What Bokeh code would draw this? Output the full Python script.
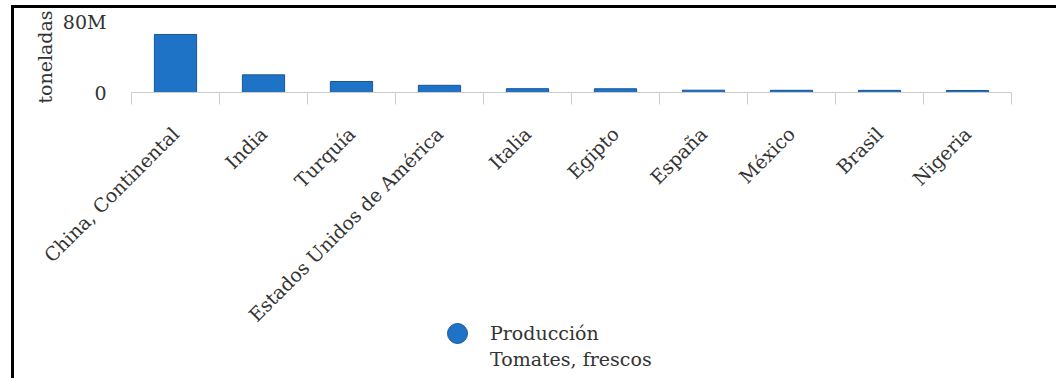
import math

from bokeh.embed import file_html
from bokeh.layouts import column
from bokeh.models import ColumnDataSource, FixedTicker, Legend, LegendItem, Range1d
from bokeh.plotting import figure
from bokeh.resources import INLINE

# Tomato production by country (tonnes)
countries = [
    "China, Continental", "India", "Turquía", "Estados Unidos de América",
    "Italia", "Egipto", "España", "México", "Brasil", "Nigeria",
]
production_t = [65.4e6, 19.9e6, 12.4e6, 8.1e6, 4.3e6, 4.2e6, 2.6e6, 2.5e6, 2.4e6, 2.3e6]
series_label = ["Producción", "Tomates, frescos"]
y_axis_label = "toneladas"
y_ticks = [0, 80e6]
y_tick_labels = ["0", "80M"]

FONT = "DejaVu Serif"
TEXT = "#333333"
BLUE = "#1f73c6"
EDGE = "#1b5597"
RULE = "#cccccc"

n = len(countries)
centers = [i + 0.5 for i in range(n)]
src = ColumnDataSource(dict(x=centers, top=production_t, name=countries))

p = figure(
    width=1042, height=328,
    x_range=Range1d(0, n), y_range=Range1d(y_ticks[0], y_ticks[-1]),
    output_backend="svg", toolbar_location=None,
    min_border_left=117, min_border_right=45, min_border_top=13, min_border_bottom=244,
)
p.outline_line_color = None

p.vbar(x="x", top="top", bottom=0, width=0.48, source=src,
       fill_color=BLUE, line_color=EDGE, line_width=1)

# category axis: labels at bar centres, tick marks on the category boundaries
xa = p.xaxis[0]
xa.ticker = FixedTicker(ticks=centers, minor_ticks=list(range(n + 1)))
xa.major_label_overrides = {c: name for c, name in zip(centers, countries)}
xa.major_label_orientation = math.pi / 4
xa.major_label_standoff = 26
xa.major_label_text_font = FONT
xa.major_label_text_font_size = "19px"
xa.major_label_text_color = TEXT
xa.major_tick_line_color = None
xa.major_tick_out = 0
xa.major_tick_in = 0
xa.minor_tick_line_color = RULE
xa.minor_tick_out = 12
xa.minor_tick_in = 0
xa.axis_line_color = RULE

ya = p.yaxis[0]
ya.ticker = FixedTicker(ticks=y_ticks)
ya.major_label_overrides = dict(zip(y_ticks, y_tick_labels))
ya.major_label_text_font = FONT
ya.major_label_text_font_size = "19px"
ya.major_label_text_color = TEXT
ya.major_label_standoff = 19
ya.major_tick_line_color = None
ya.minor_tick_line_color = None
ya.axis_line_color = None
ya.axis_label = y_axis_label
ya.axis_label_text_font = FONT
ya.axis_label_text_font_size = "19px"
ya.axis_label_text_font_style = "normal"
ya.axis_label_text_color = TEXT
ya.axis_label_standoff = 4

p.xgrid.visible = False
p.ygrid[0].ticker = FixedTicker(ticks=y_ticks)
p.ygrid.grid_line_color = "#dddddd"

# legend strip under the chart (transparent, tucked up beside the long labels)
leg = figure(
    width=1042, height=82, output_backend="svg", toolbar_location=None,
    x_axis_location=None, y_axis_location=None,
    min_border=0, min_border_left=0, min_border_right=0, min_border_top=0, min_border_bottom=0,
)
leg.outline_line_color = None
leg.grid.visible = False
leg.border_fill_alpha = 0
leg.background_fill_alpha = 0
leg.styles = {"margin-top": "-34px"}

# the series as round markers, kept hidden: it only supplies the legend swatch
swatch = leg.scatter(x="x", y="top", source=src, marker="circle", size=20,
                     fill_color=BLUE, line_color=EDGE, line_width=1, visible=False)
# a blank swatch for the second line of the series name
blank = leg.scatter(x="x", y="top", source=src, marker="circle", size=20,
                    fill_alpha=0, line_alpha=0, visible=False)

legend_style = dict(
    glyph_width=50, glyph_height=50, label_standoff=8,
    padding=0, margin=0, spacing=0,
    border_line_color=None, background_fill_alpha=0,
    inactive_fill_alpha=0,
    label_text_font=FONT, label_text_font_size="19px", label_text_color=TEXT,
)
legend_top = Legend(items=[LegendItem(label=series_label[0], renderers=[swatch])],
                    location=(301, 26), **legend_style)
legend_sub = Legend(items=[LegendItem(label=series_label[1], renderers=[blank])],
                    location=(301, 0), **legend_style)
leg.add_layout(legend_top)
leg.add_layout(legend_sub)

page = column(p, leg, spacing=0)
page.styles = {
    "border-top": "3px solid #000",
    "border-left": "3px solid #000",
    "margin-left": "11px",
    "margin-top": "5px",
}

open("out.html", "w").write(file_html(page, INLINE))
